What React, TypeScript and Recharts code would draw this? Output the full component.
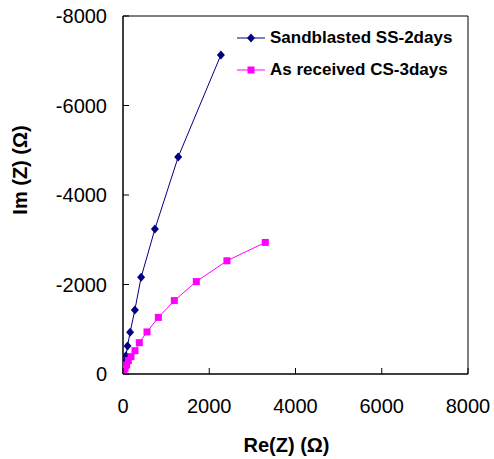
import { ScatterChart, Scatter, XAxis, YAxis, Legend, ReferenceArea } from 'recharts';

// Nyquist data: Re(Z) and Im(Z) in ohm
const reSand = [5, 15, 28, 45, 68, 105, 165, 275, 420, 740, 1280, 2270];
const imSand = [-40, -100, -180, -280, -410, -626, -935, -1430, -2160, -3240, -4850, -7130];

const rePink = [8, 25, 50, 85, 124, 186, 278, 378, 557, 820, 1190, 1700, 2410, 3300];
const imPink = [-30, -70, -130, -200, -300, -388, -520, -700, -940, -1265, -1640, -2065, -2530, -2940];

const xTicks = [0, 2000, 4000, 6000, 8000];
const yTicks = [0, -2000, -4000, -6000, -8000];

const seriesNames = ['Sandblasted SS-2days', 'As received CS-3days'];

const sandData = reSand.map((re, i) => ({ re, im: imSand[i] }));
const pinkData = rePink.map((re, i) => ({ re, im: imPink[i] }));

const NAVY = '#000080';
const PINK = '#ff00ff';
const FONT = '"Liberation Sans", Arial, sans-serif';

const Diamond = (props: any) => {
  const { cx, cy, fill } = props;
  return <polygon points={`${cx},${cy - 4.5} ${cx + 4},${cy} ${cx},${cy + 4.5} ${cx - 4},${cy}`} fill={fill} />;
};

const Square = (props: any) => {
  const { cx, cy, fill } = props;
  return <rect x={cx - 3.5} y={cy - 3.5} width={7} height={7} fill={fill} />;
};

const XTick = (props: any) => {
  const { x, y, payload } = props;
  return (
    <g>
      <line x1={x} x2={x} y1={y} y2={y - 6} stroke="#000" />
      <text x={x} y={y + 39} textAnchor="middle" fontSize={20} fontFamily={FONT} fill="#000">
        {payload.value}
      </text>
    </g>
  );
};

const YTick = (props: any) => {
  const { x, y, payload } = props;
  return (
    <g>
      <line x1={x} x2={x + 6} y1={y} y2={y} stroke="#000" />
      <text x={x - 16} y={y + 7} textAnchor="end" fontSize={20} fontFamily={FONT} fill="#000">
        {payload.value}
      </text>
    </g>
  );
};

const XTitle = (props: any) => {
  const { viewBox } = props;
  return (
    <text x={viewBox.x + viewBox.width / 2 - 9} y={viewBox.y + 78} textAnchor="middle" fontSize={20} fontWeight="bold" fontFamily={FONT}>
      Re(Z) (Ω)
    </text>
  );
};

const YTitle = (props: any) => {
  const { viewBox } = props;
  const cx = viewBox.x + 27;
  const cy = viewBox.y + viewBox.height / 2 - 25;
  return (
    <text x={cx} y={cy} transform={`rotate(-90, ${cx}, ${cy})`} textAnchor="middle" fontSize={20} fontWeight="bold" fontFamily={FONT}>
      Im (Z) (Ω)
    </text>
  );
};

const LegendBox = () => (
  <div style={{ fontFamily: FONT, fontWeight: 'bold', fontSize: 17 }}>
    {seriesNames.map((name, i) => (
      <div key={name} style={{ display: 'flex', alignItems: 'center', height: 32 }}>
        <svg width={34} height={12}>
          <line x1={1} x2={29} y1={6} y2={6} stroke={i === 0 ? NAVY : PINK} />
          {i === 0 ? <Diamond cx={15} cy={6} fill={NAVY} /> : <Square cx={15} cy={6} fill={PINK} />}
        </svg>
        <span>{name}</span>
      </div>
    ))}
  </div>
);

export default function App() {
  return (
    <div style={{ position: 'absolute', left: 0, top: 0, background: '#fff' }}>
      <ScatterChart width={494} height={459} margin={{ top: 16, right: 26, bottom: 0, left: 0 }}>
        <XAxis
          type="number"
          dataKey="re"
          domain={[0, 8000]}
          ticks={xTicks}
          tickSize={0}
          tickMargin={0}
          height={85}
          tick={<XTick />}
          stroke="#000"
          label={<XTitle />}
          allowDataOverflow
        />
        <YAxis
          type="number"
          dataKey="im"
          domain={[-8000, 0]}
          reversed
          ticks={yTicks}
          tickSize={0}
          tickMargin={0}
          width={123}
          tick={<YTick />}
          stroke="#000"
          label={<YTitle />}
          allowDataOverflow
        />
        <ReferenceArea x1={0} x2={8000} y1={-8000} y2={0} fill="none" stroke="#000" ifOverflow="visible" />
        <Legend
          layout="vertical"
          align="center"
          verticalAlign="middle"
          content={<LegendBox />}
          wrapperStyle={{ left: 236, top: 22, width: 250 }}
        />
        <Scatter
          name={seriesNames[0]}
          data={sandData}
          fill={NAVY}
          line={{ stroke: NAVY, strokeWidth: 1 }}
          shape={<Diamond />}
          isAnimationActive={false}
        />
        <Scatter
          name={seriesNames[1]}
          data={pinkData}
          fill={PINK}
          line={{ stroke: PINK, strokeWidth: 1 }}
          shape={<Square />}
          isAnimationActive={false}
        />
      </ScatterChart>
    </div>
  );
}
